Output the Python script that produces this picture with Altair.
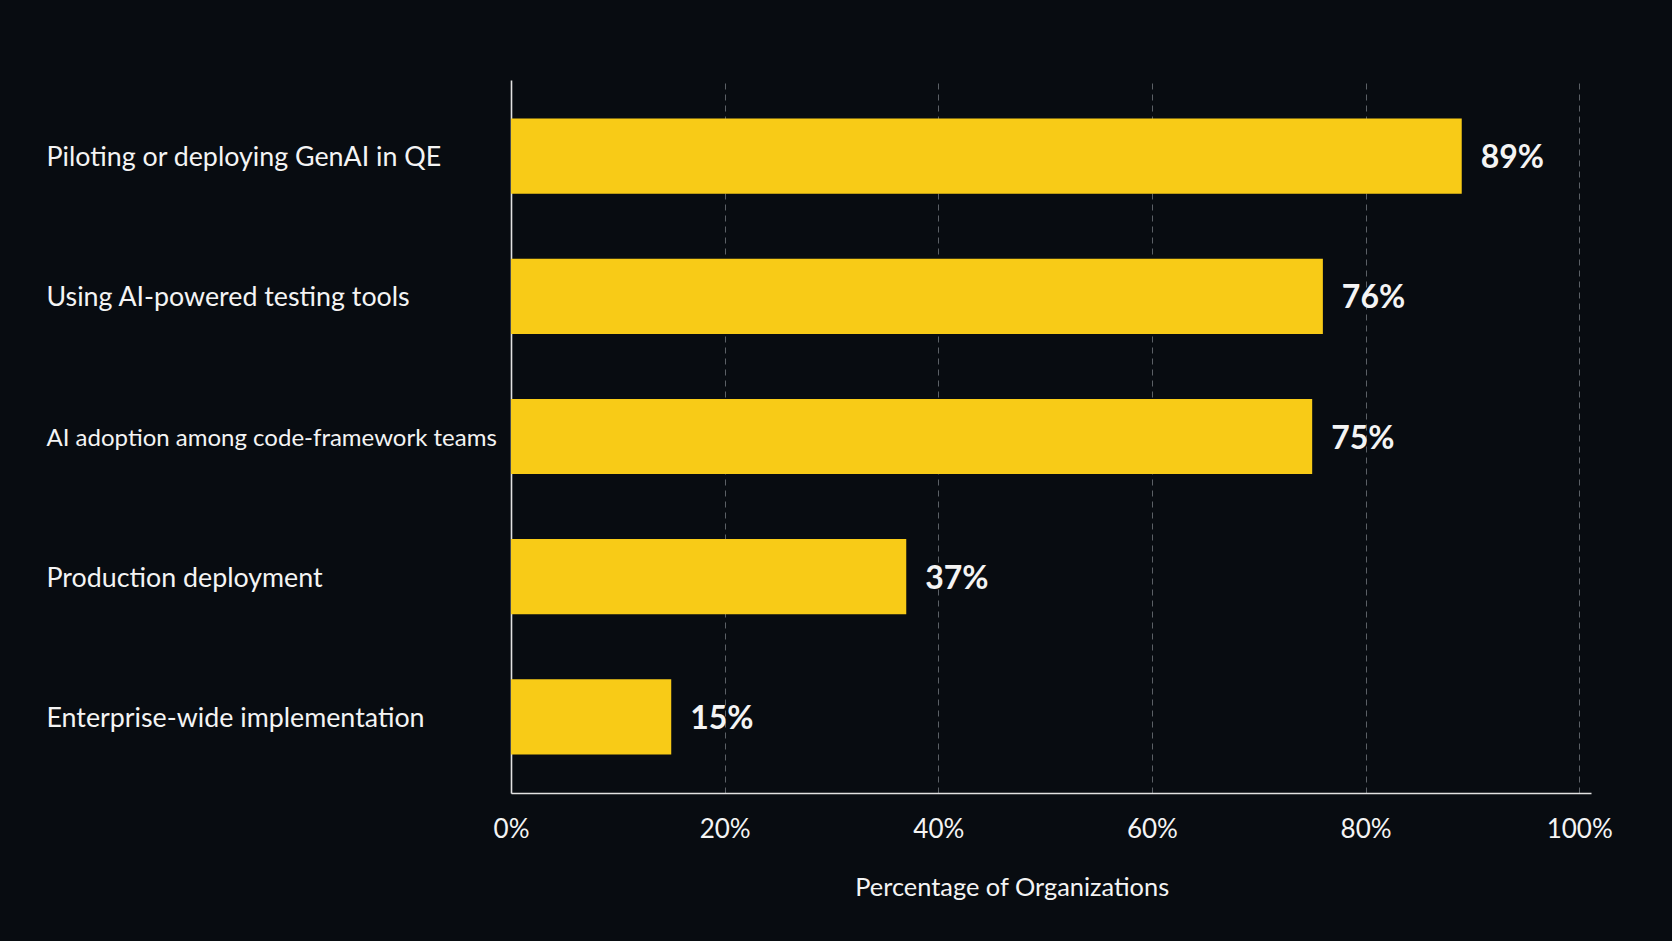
import altair as alt
import pandas as pd

# Survey results: share of organizations at each stage of AI adoption in QE
categories = [
    "Piloting or deploying GenAI in QE",
    "Using AI-powered testing tools",
    "AI adoption among code-framework teams",
    "Production deployment",
    "Enterprise-wide implementation",
]
values = [89, 76, 75, 37, 15]
x_ticks = [0, 20, 40, 60, 80, 100]

df = pd.DataFrame({"category": categories, "value": values})
df["label"] = df["value"].astype(str) + "%"

FONT = "Lato"
BG = "#080c11"
BAR = "#f8cb17"
TEXT = "#f4f4f4"

# the longest category name is set a little smaller so it fits left of the axis
longest = max(categories, key=len)

x_enc = alt.X(
    "value:Q",
    scale=alt.Scale(domain=[0, 101.1], nice=False, zero=True),
    axis=alt.Axis(
        values=x_ticks,
        labelExpr="datum.value + '%'",
        title="Percentage of Organizations",
        grid=True,
        gridColor="#5b6066",
        gridDash=[6, 5],
        gridWidth=1,
        ticks=False,
        tickSize=0,
        labelPadding=44,
        labelBaseline="alphabetic",
        labelFontSize=26,
        labelFlush=False,
        labelOverlap=False,
        titleFontSize=25.4,
        titleFontWeight="normal",
        titleX=500.7,
        titleY=102,
        titleAlign="center",
        titleBaseline="alphabetic",
    ),
)

y_enc = alt.Y(
    "category:N",
    sort=categories,
    scale=alt.Scale(paddingInner=0.464, paddingOuter=0.275),
    axis=alt.Axis(
        title=None,
        grid=False,
        ticks=False,
        tickSize=0,
        labelAlign="left",
        labelPadding=465,
        labelLimit=600,
        labelFontSize={
            "condition": {"test": f"datum.value === '{longest}'", "value": 24},
            "value": 26.8,
        },
        labelOffset=2,
    ),
)

bars = alt.Chart(df).mark_bar(color=BAR, cornerRadius=0).encode(x=x_enc, y=y_enc)

value_labels = alt.Chart(df).mark_text(
    align="left",
    baseline="middle",
    dx=19,
    dy=2,
    fontSize=32,
    fontWeight="bold",
    color=TEXT,
    font=FONT,
).encode(
    x="value:Q",
    y=alt.Y("category:N", sort=categories),
    text="label:N",
)

chart = (
    alt.layer(bars, value_labels)
    .properties(
        width=1080,
        height=713,
        autosize=alt.AutoSizeParams(type="none"),
        padding={"left": 511, "top": 80, "right": 81, "bottom": 148},
        background=BG,
    )
    .configure_view(stroke=None)
    .configure_axis(
        domainColor="#e2e2e2",
        domainWidth=1.6,
        labelColor=TEXT,
        titleColor=TEXT,
        labelFont=FONT,
        titleFont=FONT,
    )
)

chart.save("out.html", embed_options={"renderer": "svg", "actions": False})
